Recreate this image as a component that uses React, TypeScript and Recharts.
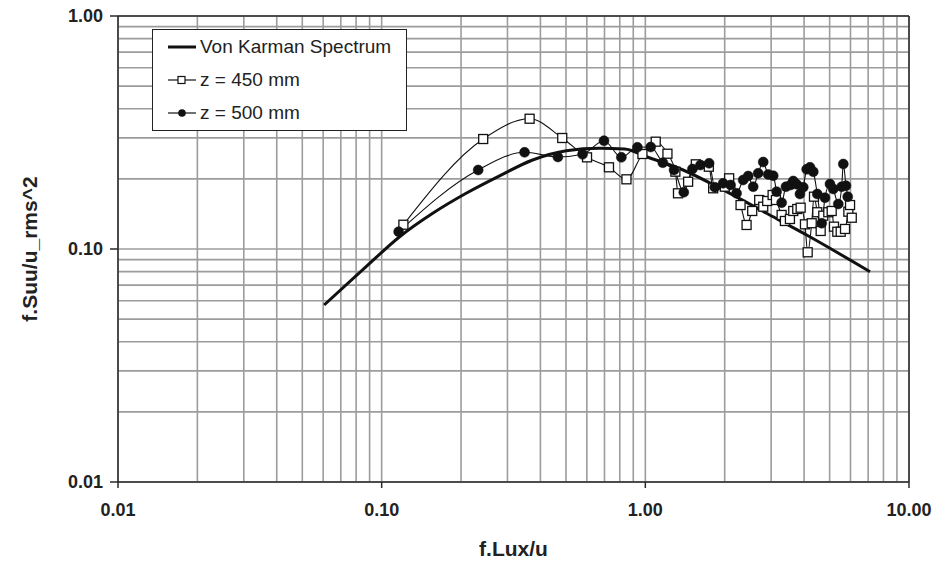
import React from 'react';
import { LineChart, Line, XAxis, YAxis, CartesianGrid, ReferenceLine, Legend } from 'recharts';

// ---- Data ----
const vonKarmanX = [0.0605, 0.0873, 0.1167, 0.1562, 0.2091, 0.28, 0.3736, 0.5017, 0.671, 0.835, 1.01, 1.391, 2.032, 2.884, 4.092, 7.116];
const vonKarmanY = [0.0575, 0.084, 0.1126, 0.1423, 0.1734, 0.206, 0.241, 0.2641, 0.2705, 0.2688, 0.2489, 0.2183, 0.1762, 0.1423, 0.1148, 0.0799];

const z450X = [0.1209, 0.2427, 0.364, 0.484, 0.601, 0.728, 0.848, 0.975, 1.095, 1.213, 1.3, 1.33, 1.453, 1.554, 1.741, 1.808, 2.002, 2.079, 2.297, 2.421, 2.543, 2.703, 2.8, 2.899, 3.039, 3.128, 3.288, 3.384, 3.535, 3.639, 3.769, 3.882, 4.031, 4.128, 4.275, 4.362, 4.489, 4.624, 4.73, 4.942, 5.091, 5.194, 5.347, 5.508, 5.719, 5.888, 5.976, 6.066];
const z450Y = [0.1271, 0.2965, 0.3623, 0.2995, 0.2474, 0.2242, 0.1991, 0.2557, 0.2888, 0.2564, 0.2147, 0.1734, 0.1944, 0.2309, 0.2255, 0.1822, 0.1851, 0.2011, 0.1544, 0.1268, 0.1456, 0.1623, 0.1519, 0.1607, 0.1705, 0.1623, 0.14, 0.1319, 0.1345, 0.1456, 0.1485, 0.1504, 0.1276, 0.0968, 0.129, 0.1677, 0.1438, 0.1195, 0.139, 0.1438, 0.1456, 0.1247, 0.1186, 0.1186, 0.1219, 0.1446, 0.1544, 0.1362];

const z500X = [0.116, 0.2323, 0.3483, 0.466, 0.578, 0.697, 0.811, 0.933, 1.048, 1.165, 1.285, 1.399, 1.509, 1.619, 1.745, 1.834, 1.973, 2.105, 2.218, 2.35, 2.455, 2.565, 2.679, 2.8, 2.924, 3.055, 3.147, 3.288, 3.414, 3.557, 3.639, 3.749, 3.859, 3.972, 4.092, 4.212, 4.335, 4.489, 4.665, 4.801, 5.015, 5.162, 5.393, 5.556, 5.634, 5.768, 5.856];
const z500Y = [0.1186, 0.2183, 0.26, 0.2482, 0.2549, 0.2916, 0.2474, 0.2732, 0.274, 0.2346, 0.2183, 0.1751, 0.2205, 0.2293, 0.2332, 0.184, 0.1914, 0.1883, 0.1734, 0.1978, 0.2057, 0.1851, 0.2113, 0.2362, 0.2088, 0.2064, 0.1762, 0.158, 0.1851, 0.1883, 0.1958, 0.1895, 0.1722, 0.184, 0.2198, 0.2242, 0.2147, 0.1722, 0.129, 0.166, 0.1901, 0.181, 0.156, 0.1851, 0.2316, 0.1869, 0.1677];

const xTicks = [0.01, 0.02, 0.03, 0.04, 0.05, 0.06, 0.07, 0.08, 0.09, 0.1, 0.2, 0.3, 0.4, 0.5, 0.6, 0.7, 0.8, 0.9, 1, 2, 3, 4, 5, 6, 7, 8, 9, 10];
const yTicks = [0.01, 0.02, 0.03, 0.04, 0.05, 0.06, 0.07, 0.08, 0.09, 0.1, 0.2, 0.3, 0.4, 0.5, 0.6, 0.7, 0.8, 0.9, 1];

const seriesNames = ['Von Karman Spectrum', 'z = 450 mm', 'z = 500 mm'];
const xTitle = 'f.Lux/u';
const yTitle = 'f.Suu/u_rms^2';

const toPoints = (xs: number[], ys: number[]) => xs.map((x, i) => ({ x, y: ys[i] }));
const vonKarman = toPoints(vonKarmanX, vonKarmanY);
const z450 = toPoints(z450X, z450Y);
const z500 = toPoints(z500X, z500Y);

// ---- Styles ----
const FONT = '"Liberation Sans", Arial, Helvetica, sans-serif';
const AXIS_COLOR = '#2a2a2a';
const GRID_COLOR = '#9c9c9c';
const X_TICK_SIZE = 6;
const X_TICK_MARGIN = 15;
const Y_TICK_SIZE = 8;
const Y_TICK_MARGIN = 7;

const isMajor = (v: number) => {
  const l = Math.log10(v);
  return Math.abs(l - Math.round(l)) < 1e-6;
};

const XTick = (props: any) => {
  const { x, y, payload } = props;
  const v = payload.value;
  if (!isMajor(v)) return <g />;
  const top = y - X_TICK_MARGIN - X_TICK_SIZE;
  return (
    <g>
      <line x1={x} x2={x} y1={top} y2={top + X_TICK_SIZE} stroke={AXIS_COLOR} strokeWidth={1.5} />
      <text x={x} y={y} dy="0.71em" textAnchor="middle" fontFamily={FONT} fontSize={18} fontWeight="bold" fill="#222">
        {v.toFixed(2)}
      </text>
    </g>
  );
};

const YTick = (props: any) => {
  const { x, y, payload } = props;
  const v = payload.value;
  if (!isMajor(v)) return <g />;
  const left = x + Y_TICK_MARGIN;
  return (
    <g>
      <line x1={left} x2={left + Y_TICK_SIZE} y1={y} y2={y} stroke={AXIS_COLOR} strokeWidth={1.5} />
      <text x={x} y={y} dy="0.36em" textAnchor="end" fontFamily={FONT} fontSize={18} fontWeight="bold" fill="#222">
        {v.toFixed(2)}
      </text>
    </g>
  );
};

const SquareDot = (props: any) => {
  const { cx, cy, index } = props;
  if (cx == null || cy == null) return <g key={index} />;
  return <rect key={index} x={cx - 4.5} y={cy - 4.5} width={9} height={9} fill="#fff" stroke="#111" strokeWidth={1.3} />;
};

const CircleDot = (props: any) => {
  const { cx, cy, index } = props;
  if (cx == null || cy == null) return <g key={index} />;
  return <circle key={index} cx={cx} cy={cy} r={5} fill="#111" stroke="#111" strokeWidth={0.5} />;
};

const LegendBox = () => {
  const row: React.CSSProperties = { display: 'flex', alignItems: 'center', height: 33, lineHeight: '33px' };
  return (
    <div
      style={{
        width: 255,
        height: 102,
        boxSizing: 'border-box',
        border: '1.5px solid #222',
        background: '#fff',
        paddingLeft: 15,
        paddingTop: 0,
        fontFamily: FONT,
        fontSize: 19,
        color: '#222',
      }}
    >
      <div style={row}>
        <svg width={28} height={12} style={{ marginRight: 4 }}>
          <line x1={0} x2={28} y1={6} y2={6} stroke="#111" strokeWidth={3} />
        </svg>
        <span>{seriesNames[0]}</span>
      </div>
      <div style={row}>
        <svg width={28} height={12} style={{ marginRight: 4 }}>
          <line x1={0} x2={28} y1={6} y2={6} stroke="#111" strokeWidth={1.2} />
          <rect x={10} y={2.5} width={7} height={7} fill="#fff" stroke="#111" strokeWidth={1.2} />
        </svg>
        <span>{seriesNames[1]}</span>
      </div>
      <div style={row}>
        <svg width={28} height={12} style={{ marginRight: 4 }}>
          <line x1={0} x2={28} y1={6} y2={6} stroke="#111" strokeWidth={1.2} />
          <circle cx={14} cy={6} r={3.8} fill="#111" />
        </svg>
        <span>{seriesNames[2]}</span>
      </div>
    </div>
  );
};

export default function App() {
  return (
    <div style={{ position: 'absolute', left: 0, top: 0, width: 941, height: 565, background: '#fff' }}>
      <LineChart width={941} height={565} margin={{ top: 16, right: 32, left: 0, bottom: 0 }}>
        <CartesianGrid stroke={GRID_COLOR} strokeWidth={1.6} />
        <XAxis
          dataKey="x"
          type="number"
          scale="log"
          domain={[0.01, 10]}
          ticks={xTicks}
          allowDataOverflow
          height={83}
          tickLine={false}
          tickSize={X_TICK_SIZE}
          tickMargin={X_TICK_MARGIN}
          tick={<XTick />}
          interval={0}
          axisLine={{ stroke: AXIS_COLOR, strokeWidth: 1.5 }}
          label={{ value: xTitle, position: 'insideBottom', offset: 9, style: { fontFamily: FONT, fontSize: 21, fontWeight: 'bold', fill: '#222' } }}
        />
        <YAxis
          dataKey="y"
          type="number"
          scale="log"
          domain={[0.01, 1]}
          ticks={yTicks}
          allowDataOverflow
          width={118}
          tickLine={false}
          tickSize={Y_TICK_SIZE}
          tickMargin={Y_TICK_MARGIN}
          tick={<YTick />}
          interval={0}
          axisLine={{ stroke: AXIS_COLOR, strokeWidth: 1.5 }}
          label={{ value: yTitle, angle: -90, position: 'insideLeft', offset: 30, style: { textAnchor: 'middle', fontFamily: FONT, fontSize: 21, fontWeight: 'bold', fill: '#222' } }}
        />
        <ReferenceLine y={1} stroke={AXIS_COLOR} strokeWidth={1.5} />
        <ReferenceLine x={10} stroke={AXIS_COLOR} strokeWidth={1.5} />
        <Legend
          layout="vertical"
          align="center"
          verticalAlign="middle"
          wrapperStyle={{ left: 152, top: 29, width: 255, height: 102 }}
          content={<LegendBox />}
        />
        <Line
          data={vonKarman}
          dataKey="y"
          name={seriesNames[0]}
          type="monotone"
          stroke="#111"
          strokeWidth={3}
          dot={false}
          activeDot={false}
          isAnimationActive={false}
        />
        <Line
          data={z450}
          dataKey="y"
          name={seriesNames[1]}
          type="monotone"
          stroke="#111"
          strokeWidth={1.1}
          dot={<SquareDot />}
          activeDot={false}
          isAnimationActive={false}
        />
        <Line
          data={z500}
          dataKey="y"
          name={seriesNames[2]}
          type="monotone"
          stroke="#111"
          strokeWidth={1.1}
          dot={<CircleDot />}
          activeDot={false}
          isAnimationActive={false}
        />
      </LineChart>
    </div>
  );
}
